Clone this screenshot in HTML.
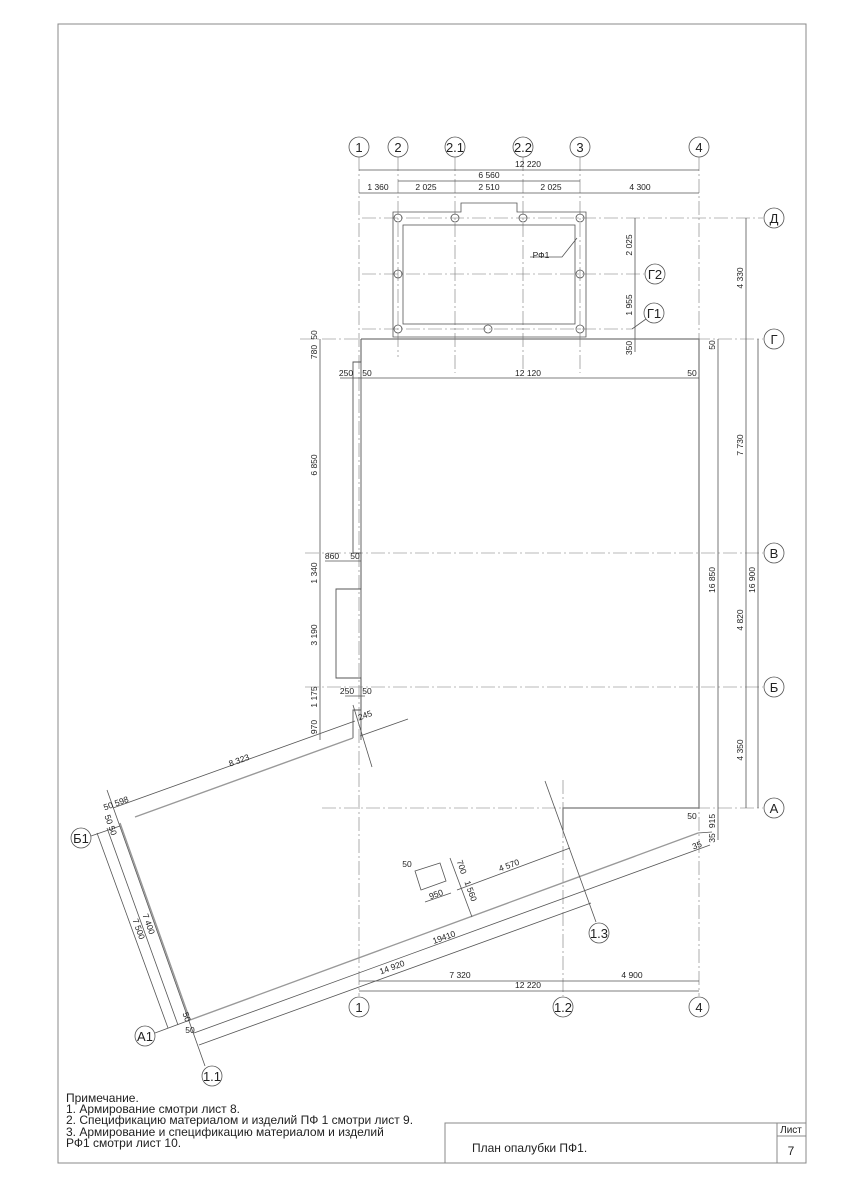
<!DOCTYPE html>
<html><head><meta charset="utf-8"><style>
html,body{margin:0;padding:0;background:#fff}
svg{display:block}
text{font-family:"Liberation Sans",sans-serif;fill:#222}
.d{font-size:8.5px}
.b{font-size:12px}
.bb{font-size:13px}
</style></head><body>
<svg width="842" height="1191" viewBox="0 0 842 1191" xmlns="http://www.w3.org/2000/svg">
<g fill="none" stroke="#888" stroke-width="1">
<rect x="58" y="24" width="748" height="1139"/>
<rect x="445" y="1123" width="361" height="40"/>
<line x1="777" y1="1123" x2="777" y2="1163"/>
<line x1="777" y1="1136" x2="806" y2="1136"/>
</g>
<g fill="none" stroke="#777" stroke-width="0.6" stroke-dasharray="14 3 2 3">
<line x1="359" y1="157" x2="359" y2="996"/>
<line x1="398" y1="157" x2="398" y2="357"/>
<line x1="455" y1="157" x2="455" y2="373"/>
<line x1="523" y1="157" x2="523" y2="373"/>
<line x1="580" y1="157" x2="580" y2="373"/>
<line x1="699" y1="157" x2="699" y2="996"/>
<line x1="563" y1="780" x2="563" y2="996"/>
<line x1="362" y1="218" x2="763" y2="218"/>
<line x1="362" y1="274" x2="644" y2="274"/>
<line x1="362" y1="329" x2="632" y2="329"/>
<line x1="300" y1="339" x2="763" y2="339"/>
<line x1="305" y1="553" x2="763" y2="553"/>
<line x1="305" y1="687" x2="763" y2="687"/>
<line x1="322" y1="808" x2="763" y2="808"/>
</g>
<g fill="none" stroke="#555" stroke-width="0.8">
<circle cx="359" cy="147" r="10"/><circle cx="398" cy="147" r="10"/><circle cx="455" cy="147" r="10"/>
<circle cx="523" cy="147" r="10"/><circle cx="580" cy="147" r="10"/><circle cx="699" cy="147" r="10"/>
<circle cx="774" cy="218" r="10"/><circle cx="655" cy="274" r="10"/><circle cx="654" cy="313" r="10"/>
<circle cx="774" cy="339" r="10"/><circle cx="774" cy="553" r="10"/><circle cx="774" cy="687" r="10"/><circle cx="774" cy="808" r="10"/>
<circle cx="359" cy="1007" r="10"/><circle cx="563" cy="1007" r="10"/><circle cx="699" cy="1007" r="10"/>
<circle cx="81" cy="838" r="10"/><circle cx="145" cy="1036" r="10"/><circle cx="212" cy="1076" r="10"/><circle cx="599" cy="933" r="10"/>
<line x1="632" y1="329" x2="646" y2="319"/>
<line x1="359" y1="170" x2="699" y2="170"/>
<line x1="398" y1="181" x2="580" y2="181"/>
<line x1="359" y1="193" x2="699" y2="193"/>
<path d="M393 212 H461 V203 H517 V212 H586 V337 H393 Z"/>
<rect x="403" y="225" width="172" height="99"/>
<circle cx="398" cy="218" r="4"/><circle cx="455" cy="218" r="4"/><circle cx="523" cy="218" r="4"/><circle cx="580" cy="218" r="4"/>
<circle cx="398" cy="274" r="4"/><circle cx="580" cy="274" r="4"/>
<circle cx="398" cy="329" r="4"/><circle cx="488" cy="329" r="4"/><circle cx="580" cy="329" r="4"/>
<path d="M530 257 H562 L577 238"/>
<line x1="635" y1="218" x2="635" y2="352"/>
<line x1="746" y1="218" x2="746" y2="808"/>
<line x1="718" y1="339" x2="718" y2="840"/>
<line x1="758" y1="339" x2="758" y2="808"/>
<path d="M361 339 H699 V808 H563 V830" stroke-width="1.2" stroke="#777"/>
<path d="M361 339 V362 H353 V553 H361 V589 H336 V678 H361 V710 H353 V738" stroke-width="0.9"/>
<line x1="361" y1="339" x2="361" y2="740" stroke-width="0.9"/>
<line x1="320" y1="339" x2="320" y2="740"/>
<line x1="340" y1="378" x2="699" y2="378"/>
<line x1="325" y1="561" x2="361" y2="561"/>
<line x1="345" y1="696" x2="365" y2="696"/>
<line x1="135" y1="817" x2="353" y2="738" stroke-width="1.4" stroke="#999"/>
<line x1="360" y1="736" x2="408" y2="719"/>
<line x1="113" y1="808" x2="355" y2="721"/>
<line x1="120" y1="823" x2="190" y2="1020" stroke-width="1.4" stroke="#999"/>
<line x1="190" y1="1020" x2="698" y2="833" stroke-width="1.4" stroke="#999"/>
<line x1="194" y1="1033" x2="710" y2="845"/>
<line x1="199" y1="1045" x2="591" y2="903"/>
<line x1="97" y1="833" x2="168" y2="1028"/>
<line x1="107" y1="828" x2="178" y2="1025"/>
<line x1="107" y1="790" x2="205" y2="1066"/>
<line x1="91" y1="836" x2="120" y2="826"/>
<line x1="155" y1="1033" x2="190" y2="1020"/>
<line x1="545" y1="781" x2="596" y2="922"/>
<line x1="353" y1="705" x2="372" y2="767"/>
<line x1="698" y1="833" x2="712" y2="832"/>
<line x1="457" y1="890" x2="570" y2="848"/>
<line x1="450" y1="858" x2="472" y2="917"/>
<line x1="425" y1="902" x2="451" y2="893"/>
<path d="M415 871 L440 863 L446 881 L421 890 Z"/>
<line x1="359" y1="981" x2="699" y2="981"/>
<line x1="359" y1="991" x2="699" y2="991"/>
</g>
<g class="bb" text-anchor="middle">
<text x="359" y="152">1</text><text x="398" y="152">2</text><text x="455" y="152">2.1</text>
<text x="523" y="152">2.2</text><text x="580" y="152">3</text><text x="699" y="152">4</text>
<text x="774" y="223">Д</text><text x="655" y="279">Г2</text><text x="654" y="318">Г1</text>
<text x="774" y="344">Г</text><text x="774" y="558">В</text><text x="774" y="692">Б</text><text x="774" y="813">А</text>
<text x="359" y="1012">1</text><text x="563" y="1012">1.2</text><text x="699" y="1012">4</text>
<text x="81" y="843">Б1</text><text x="145" y="1041">А1</text><text x="212" y="1081">1.1</text><text x="599" y="938">1.3</text>
</g>
<g class="d" text-anchor="middle">
<text x="528" y="167">12 220</text><text x="489" y="178">6 560</text>
<text x="378" y="190">1 360</text><text x="426" y="190">2 025</text><text x="489" y="190">2 510</text>
<text x="551" y="190">2 025</text><text x="640" y="190">4 300</text>
<text x="541" y="258">РФ1</text>
<text x="528" y="376">12 120</text><text x="346" y="376">250</text><text x="367" y="376">50</text><text x="692" y="376">50</text>
<text x="332" y="559">860</text><text x="355" y="559">50</text>
<text x="347" y="694">250</text><text x="367" y="694">50</text>
<text x="692" y="819">50</text>
<text x="460" y="978">7 320</text><text x="632" y="978">4 900</text><text x="528" y="988">12 220</text>
<text x="407" y="867">50</text><text x="437" y="897" transform="rotate(-20 437 897)">950</text>
<text x="510" y="868" transform="rotate(-20 510 868)">4 570</text>
<text x="393" y="970" transform="rotate(-20 393 970)">14 920</text>
<text x="445" y="940" transform="rotate(-20 445 940)">19410</text>
<text x="240" y="763" transform="rotate(-20 240 763)">8 323</text>
<text x="117" y="806" transform="rotate(-20 117 806)">50 598</text>
<text x="366" y="718" transform="rotate(-20 366 718)">245</text>
<text x="698" y="848" transform="rotate(-20 698 848)">35</text>
<text x="136" y="930" transform="rotate(70 136 930)">7 500</text>
<text x="146" y="925" transform="rotate(70 146 925)">7 400</text>
<text x="108" y="826" transform="rotate(70 108 826)">50 50</text>
<text x="184" y="1018" transform="rotate(70 184 1018)">50</text>
<text x="190" y="1033">50</text>
<text x="459" y="868" transform="rotate(70 459 868)">700</text>
<text x="468" y="892" transform="rotate(70 468 892)">1 560</text>
</g>
<g class="d" text-anchor="middle">
<text transform="translate(632 245) rotate(-90)">2 025</text>
<text transform="translate(632 305) rotate(-90)">1 955</text>
<text transform="translate(632 348) rotate(-90)">350</text>
<text transform="translate(743 278) rotate(-90)">4 330</text>
<text transform="translate(743 445) rotate(-90)">7 730</text>
<text transform="translate(743 620) rotate(-90)">4 820</text>
<text transform="translate(743 750) rotate(-90)">4 350</text>
<text transform="translate(715 345) rotate(-90)">50</text>
<text transform="translate(715 580) rotate(-90)">16 850</text>
<text transform="translate(715 821) rotate(-90)">915</text>
<text transform="translate(715 838) rotate(-90)">35</text>
<text transform="translate(755 580) rotate(-90)">16 900</text>
<text transform="translate(317 335) rotate(-90)">50</text>
<text transform="translate(317 352) rotate(-90)">780</text>
<text transform="translate(317 465) rotate(-90)">6 850</text>
<text transform="translate(317 573) rotate(-90)">1 340</text>
<text transform="translate(317 635) rotate(-90)">3 190</text>
<text transform="translate(317 697) rotate(-90)">1 175</text>
<text transform="translate(317 727) rotate(-90)">970</text>
</g>
<g class="b">
<text x="66" y="1102">Примечание.</text>
<text x="66" y="1113">1. Армирование смотри лист 8.</text>
<text x="66" y="1124">2. Спецификацию материалом и изделий ПФ 1 смотри лист 9.</text>
<text x="66" y="1136">3. Армирование и спецификацию материалом и изделий</text>
<text x="66" y="1147">РФ1 смотри лист 10.</text>
<text x="472" y="1152">План опалубки ПФ1.</text>
<text x="791" y="1133" text-anchor="middle" style="font-size:10px">Лист</text>
<text x="791" y="1155" text-anchor="middle">7</text>
</g>
</svg>
</body></html>
